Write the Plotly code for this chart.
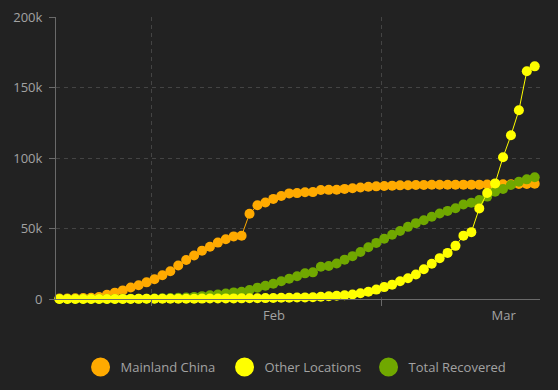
import pandas as pd
import plotly.graph_objects as go

# Daily dates (Jan 20 - Mar 20, 2020), stamped at the dashboard's update hour
dates = pd.date_range("2020-01-20 09:00", periods=61, freq="D")

mainland_china = [
    280, 330, 550, 640, 920, 1400, 3000, 4500, 6100, 8100, 9700, 11800,   # Jan 20-31
    14000, 16800, 19700, 23700, 27600, 30800, 34300, 37100, 40000, 42400,  # Feb 1-10
    44400, 44900, 60500, 66500, 68500, 71000, 73000, 74900, 75100, 75700,  # Feb 11-20
    75800, 77300, 77400, 77500, 78100, 78500, 79100, 79600, 79900,         # Feb 21-29
    80200, 80400, 80600, 80700, 80800, 80900, 81000, 81000, 81000, 81000,  # Mar 1-10
    81100, 81100, 81100, 81200, 81200, 81300, 81400, 81500, 81600, 81700,  # Mar 11-20
]
other_locations = [
    4, 6, 7, 11, 21, 28, 43, 50, 69, 79, 93, 125,
    147, 157, 171, 191, 203, 215, 285, 315, 331, 415,
    425, 470, 486, 551, 639, 722, 836, 941, 1033, 1135,
    1291, 1601, 1960, 2305, 2645, 3210, 4138, 5194, 6655,
    8437, 10170, 12579, 14734, 17345, 21094, 25051, 28972, 32701, 37705,
    44944, 47411, 64248, 75120, 82000, 100498, 116088, 133808, 161552, 165000,
]
total_recovered = [
    20, 25, 28, 30, 36, 39, 52, 61, 107, 126, 143, 222,
    284, 472, 623, 852, 1124, 1487, 2011, 2616, 3244, 3946,
    4683, 5150, 6295, 8058, 9395, 10865, 12583, 14352, 16121, 18177,
    18890, 22886, 23394, 25227, 27905, 30384, 33277, 36711, 39782,
    42716, 45602, 48228, 51170, 53796, 55865, 58358, 60694, 62494, 64404,
    67003, 68324, 70251, 72624, 76034, 78088, 80840, 83207, 84854, 86400,
]

series_names = ["Mainland China", "Other Locations", "Total Recovered"]
series_colors = ["#ffaa00", "#ffff00", "#70a800"]

month_grid = ["2020-02-01", "2020-03-01"]
month_label_pos = ["2020-02-16 11:00", "2020-03-16 11:00"]
month_labels = ["Feb", "Mar"]
y_ticks = [0, 50000, 100000, 150000, 200000]
y_tick_labels = ["0", "50k", "100k", "150k", "200k"]

BG = "#222222"
GRID = "#444444"
AXIS = "#6a6a6a"
TXT = "#a3a3a3"

fig = go.Figure()
values = {"Mainland China": mainland_china,
          "Other Locations": other_locations,
          "Total Recovered": total_recovered}
# draw order: orange, green, yellow on top
for name in ["Mainland China", "Total Recovered", "Other Locations"]:
    c = series_colors[series_names.index(name)]
    fig.add_trace(go.Scatter(
        x=dates, y=values[name], name=name, mode="lines+markers",
        line=dict(color=c, width=1),
        marker=dict(color=c, size=10, line=dict(width=0)),
        cliponaxis=False, showlegend=False,
    ))
# legend entries (big round swatches)
for name, c in zip(series_names, series_colors):
    fig.add_trace(go.Scatter(
        x=[None], y=[None], name=name, mode="markers",
        marker=dict(color=c, size=16, line=dict(color=c, width=3)),
        showlegend=True,
    ))

fig.update_layout(
    width=558, height=390,
    paper_bgcolor=BG, plot_bgcolor=BG,
    margin=dict(l=56, r=18, t=17, b=91),
    font=dict(family="Open Sans", size=13, color=TXT),
    legend=dict(orientation="h", x=0.497, xanchor="center",
                yref="container", y=23 / 390, yanchor="middle",
                font=dict(size=13, color=TXT),
                entrywidth=99, entrywidthmode="pixels",
                bgcolor="rgba(0,0,0,0)"),
    xaxis=dict(
        type="date", automargin=False,
        range=["2020-01-19 22:40", "2020-03-21 01:00"],
        tickmode="array", tickvals=month_label_pos, ticktext=month_labels,
        ticks="", showgrid=False, zeroline=False,
        showline=True, linecolor=AXIS, linewidth=1,
        tickfont=dict(size=13, color=TXT), ticklabelstandoff=4,
        minor=dict(tickmode="array", tickvals=month_grid, ticks="outside",
                   ticklen=6, tickcolor=AXIS, showgrid=True,
                   gridcolor=GRID, griddash="4px,4px", gridwidth=1),
    ),
    yaxis=dict(
        automargin=False,
        range=[0, 200000], tickmode="array", tickvals=y_ticks,
        ticktext=y_tick_labels, ticks="outside", ticklen=6, tickcolor=AXIS,
        showgrid=True, gridcolor=GRID, griddash="4px,4px", gridwidth=1,
        zeroline=False, showline=True, linecolor=AXIS, linewidth=1,
        tickfont=dict(size=13, color=TXT), ticklabelstandoff=4,
    ),
)

fig.write_html(
    "out.html",
    config={"displayModeBar": False},
    post_script="document.body.style.margin='0';"
                "document.body.style.background='#222222';",
)
